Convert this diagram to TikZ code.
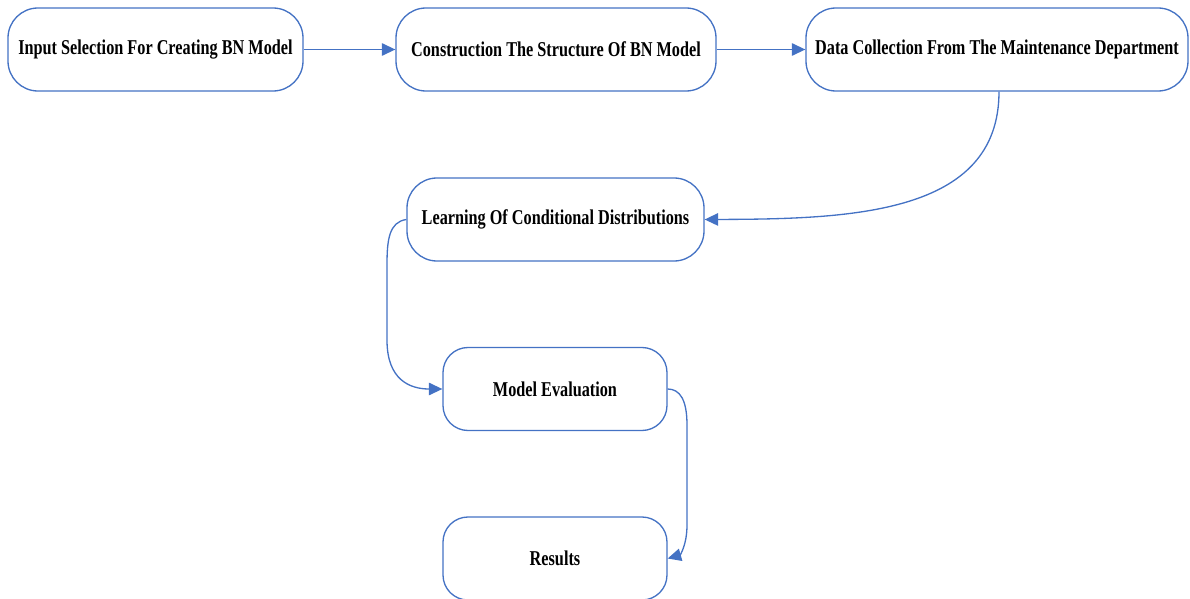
\documentclass[tikz,border=0pt]{standalone}
\usepackage{fontspec}
\usepackage{xcolor}
\usepackage{tikz}
\usetikzlibrary{arrows.meta, positioning, calc}
\newfontfamily\boxfont[FakeStretch=0.77]{Liberation Serif}
\definecolor{flowBlue}{HTML}{4472C4}

\begin{document}
\begin{tikzpicture}[
    stage/.style={rectangle,rounded corners=0.6cm,draw=flowBlue,line width=0.75pt,
                  fill=white,minimum height=1.66cm,align=center,font=\boxfont\bfseries\fontsize{12}{14}\selectfont},
    flow/.style={-{Triangle[length=0.27cm,width=0.25cm]},line width=0.75pt,flowBlue}
]
    \useasboundingbox (0,0) rectangle (23.8,-11.98);

    % Top row
    \node[stage,minimum width=5.9cm] (input) at (3.11,-0.99) {Input Selection For Creating BN Model};
    \node[stage,minimum width=6.4cm] (struct) at (11.12,-0.99) {Construction The Structure Of BN Model};
    \node[stage,minimum width=7.64cm] (data) at (19.94,-0.99) {Data Collection From The Maintenance Department};

    % Middle column
    \node[stage,minimum width=5.94cm] (learn) at (11.11,-4.39) {Learning Of Conditional Distributions};
    \node[stage,minimum width=4.48cm,rounded corners=0.5cm] (eval) at (11.10,-7.78) {Model Evaluation};
    \node[stage,minimum width=4.48cm,rounded corners=0.5cm] (res) at (11.10,-11.17) {Results};

    % Arrows
    \draw[flow] (input.east) -- (struct.west);
    \draw[flow] (struct.east) -- (data.west);
    \draw[flow] ([xshift=0.04cm]data.south) .. controls (19.98,-4.3) and (17.0,-4.38) .. (learn.east);
    \draw[flow] (learn.west) .. controls (7.78,-4.44) and (7.74,-4.8) .. (7.74,-5.3)
        -- (7.74,-6.8) .. controls (7.74,-7.6) and (8.2,-7.78) .. (eval.west);
    \draw[flow] (eval.east) .. controls (13.6,-7.78) and (13.74,-8.0) .. (13.74,-8.5)
        -- (13.74,-10.5) .. controls (13.74,-10.9) and (13.6,-11.1) .. (res.east);
\end{tikzpicture}
\end{document}
